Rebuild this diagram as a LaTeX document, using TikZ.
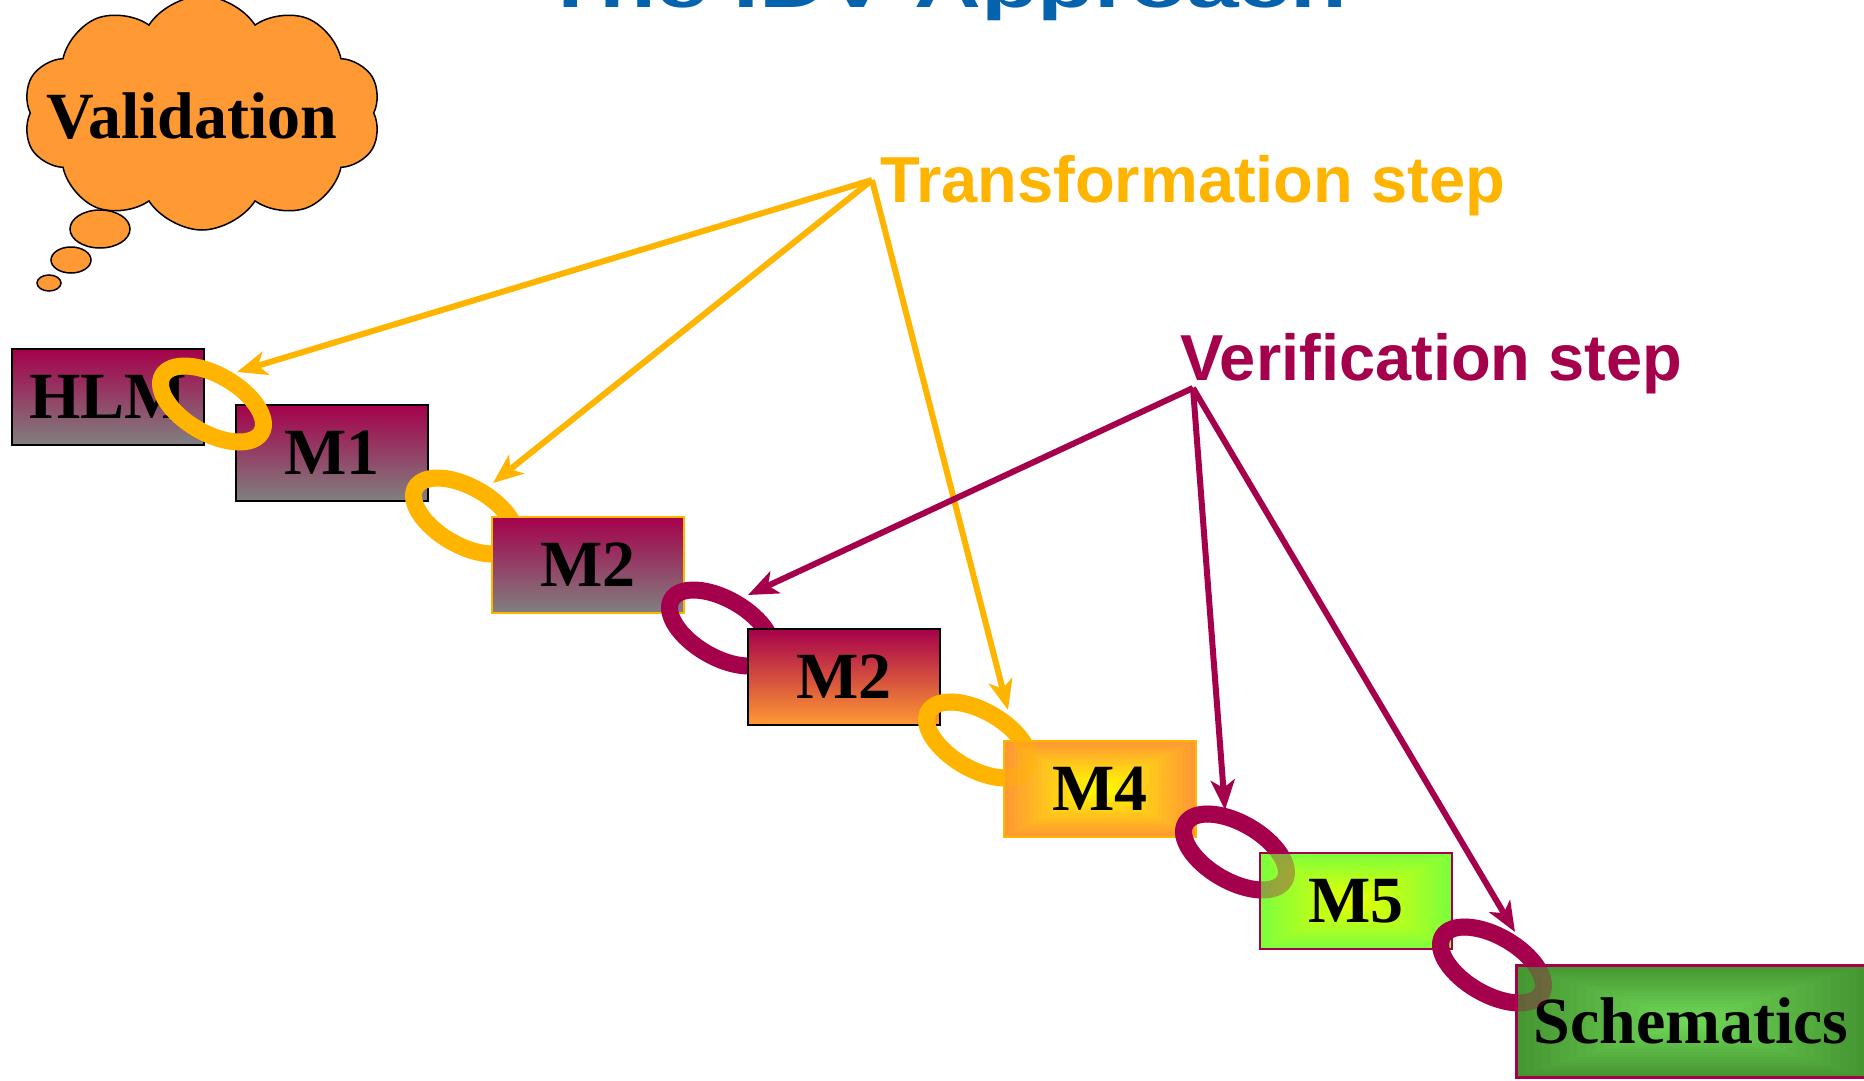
\documentclass[tikz,border=0pt]{standalone}
\usepackage{fontspec}
\setmainfont{Liberation Serif}
\newfontfamily\sansfont{Liberation Sans}
\usetikzlibrary{arrows.meta,shapes.geometric,shapes.symbols,calc}
\definecolor{crim}{RGB}{165,0,75}
\definecolor{amber}{RGB}{255,180,0}
\definecolor{orng}{RGB}{255,153,51}
\definecolor{titleblue}{RGB}{5,99,174}
\definecolor{midgray}{RGB}{128,128,128}
\definecolor{ylw}{RGB}{255,255,0}
\definecolor{ltgreen}{RGB}{125,255,60}
\definecolor{ylgreen}{RGB}{235,255,0}
\definecolor{dkgreen}{RGB}{70,150,50}
\definecolor{mdgreen}{RGB}{115,220,90}
\tikzset{
  box/.style={rectangle, minimum width=192pt, minimum height=96pt, inner sep=0pt,
    line width=2pt, font=\fontsize{66pt}{70pt}\selectfont\bfseries},
  ringshape/.style={ellipse, minimum width=114pt, minimum height=58pt, inner sep=0pt,
    outer sep=0pt, line width=17pt, rotate=-30},
  bubble/.style={ellipse, draw=black, fill=orng, line width=1.5pt, inner sep=0pt},
  yarr/.style={draw=amber, line width=6pt, -{Stealth[length=30pt,width=24pt,inset=8pt]}},
  carr/.style={draw=crim, line width=6pt, -{Stealth[length=30pt,width=24pt,inset=8pt]}},
  steplabel/.style={font=\sansfont\bfseries\fontsize{65pt}{70pt}\selectfont, anchor=base west, inner sep=0pt},
  rectgrad/.style 2 args={path picture={
    \foreach \i in {0,...,19}{
      \pgfmathtruncatemacro\pp{100-5*\i}
      \fill[#2!\pp!#1]
        ($(path picture bounding box.north west)!{\i/40}!(path picture bounding box.south east)$)
        rectangle
        ($(path picture bounding box.south east)!{\i/40}!(path picture bounding box.north west)$);
    }}}
}
\begin{document}
\begin{tikzpicture}[x=1pt,y=-1pt]
\useasboundingbox (0,0) rectangle (1864,1081);
\clip (0,0) rectangle (1864,1081);
\fill[white] (0,0) rectangle (1864,1081);

% title (cut off at the top)
\node[font=\sansfont\bfseries\fontsize{64pt}{64pt}\selectfont, text=titleblue, anchor=base, inner sep=0pt]
  (title) at (945,8) {\scalebox{1.45}[1]{The IDV Approach}};

% thought cloud
\node[cloud, cloud puffs=10, cloud puff arc=115, aspect=1.55, draw=black, line width=1.5pt,
  fill=orng, minimum width=358pt, minimum height=234pt, inner sep=0pt] (cloud) at (202,113) {};
\node[bubble, minimum width=60pt, minimum height=38pt] (b1) at (100,229) {};
\node[bubble, minimum width=40pt, minimum height=26pt] (b2) at (71,260) {};
\node[bubble, minimum width=24pt, minimum height=16pt] (b3) at (49,283) {};
\node[font=\fontsize{66pt}{70pt}\selectfont\bfseries, inner sep=0pt] (val) at (192,116) {Validation};

% chain of models
\node[box, draw=black, top color=crim, bottom color=midgray] (hlm) at (108,396.5) {HLM};
\node[box, draw=black, top color=crim, bottom color=midgray] (m1) at (332,452.5) {M1};
\node[ringshape, draw=amber] (r1) at (212,404) {};
\node[ringshape, draw=amber] (r2) at (465,516) {};
\node[box, draw=amber, top color=crim, bottom color=midgray] (m2) at (588,564.5) {M2};
\node[ringshape, draw=crim] (r3) at (721,628) {};
\node[box, draw=black, top color=crim, bottom color=orng] (m2b) at (844,676.5) {M2};
\node[ringshape, draw=amber] (r4) at (978,740) {};
\node[box, draw=amber, rectgrad={ylw}{orng}] (m4) at (1100,789) {M4};
\node[ringshape, draw=amber, draw opacity=.35] (r4o) at (r4) {};
\node[ringshape, draw=crim] (r5) at (1235,852) {};
\node[box, draw=crim, rectgrad={ylgreen}{ltgreen}] (m5) at (1356,901) {M5};
\node[ringshape, draw=crim, draw opacity=.35] (r5o) at (r5) {};
\node[ringshape, draw=crim] (r6) at (1492,965) {};
\node[box, draw=crim, line width=3pt, minimum width=350pt, minimum height=112pt,
  rectgrad={mdgreen}{dkgreen}] (sch) at (1691,1021) {Schematics};
\node[ringshape, draw=crim, draw opacity=.35] (r6o) at (r6) {};

% step labels
\node[steplabel, text=amber] (tstep) at (880,202) {Transformation step};
\node[steplabel, text=crim] (vstep) at (1180,380) {Verification step};

\coordinate (ts) at (872,180);
\coordinate (vs) at (1193,388);
\coordinate (t1) at (237,372);
\coordinate (t2) at (493,483);
\coordinate (t4) at (1008,710);
\coordinate (v3) at (748,595);
\coordinate (v5) at (1225,810);
\coordinate (v6) at (1515,932);

\draw[yarr] (ts) -- (t1);
\draw[yarr] (ts) -- (t2);
\draw[yarr] (ts) -- (t4);
\draw[carr] (vs) -- (v3);
\draw[carr] (vs) -- (v5);
\draw[carr] (vs) -- (v6);
\end{tikzpicture}
\end{document}
